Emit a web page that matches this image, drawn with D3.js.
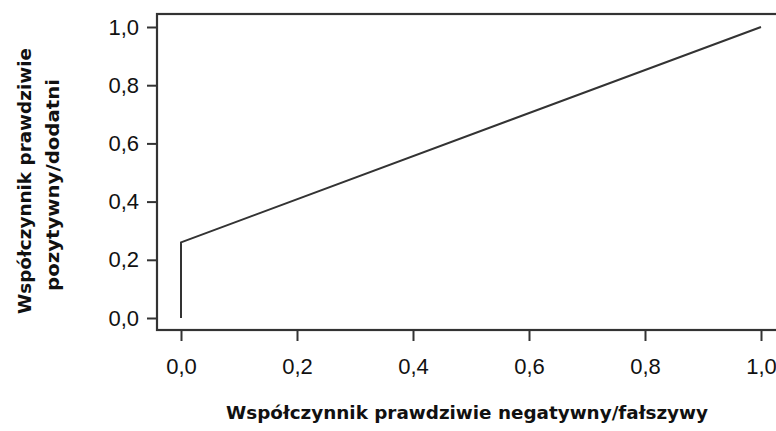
<!DOCTYPE html>
<meta charset="utf-8">
<style>
body { margin: 0; background: #fff; }
.tick text { font-family: "Liberation Sans", Arial, sans-serif; font-size: 22px; fill: #111; }
.tick line { stroke: #333; stroke-width: 2px; }
.title { font-family: "DejaVu Sans", sans-serif; font-weight: bold; font-size: 17.5px; fill: #111; }
</style>
<svg width="776" height="431"></svg>
<script src="https://d3js.org/d3.v7.min.js"></script>
<script>

// ROC curve points
var fpr = [0, 0, 1];
var tpr = [0, 0.26, 1];
var ticks = [0, 0.2, 0.4, 0.6, 0.8, 1.0];

var svg = d3.select("svg");

var pl = d3.formatLocale({decimal: ",", thousands: " ", grouping: [3], currency: ["", " zł"]});
var fmt = pl.format(".1f");

var x = d3.scaleLinear().domain([0, 1]).range([181, 761]);
var y = d3.scaleLinear().domain([0, 1]).range([318, 27]);

var frame = {left: 157, top: 14, right: 790, bottom: 330};

svg.append("rect")
    .attr("x", frame.left)
    .attr("y", frame.top)
    .attr("width", frame.right - frame.left)
    .attr("height", frame.bottom - frame.top)
    .attr("fill", "none")
    .attr("stroke", "#333")
    .attr("stroke-width", 2.2);

svg.append("g")
    .attr("transform", "translate(" + frame.left + ",0)")
    .call(d3.axisLeft(y).tickValues(ticks).tickFormat(fmt).tickSize(10).tickPadding(8))
    .call(function(g) { g.select(".domain").remove(); });

svg.append("g")
    .attr("transform", "translate(0," + frame.bottom + ")")
    .call(d3.axisBottom(x).tickValues(ticks).tickFormat(fmt).tickSize(11).tickPadding(17))
    .call(function(g) { g.select(".domain").remove(); });

var line = d3.line()
    .x(function(d) { return x(d[0]); })
    .y(function(d) { return y(d[1]); });

svg.append("path")
    .datum(d3.zip(fpr, tpr))
    .attr("d", line)
    .attr("fill", "none")
    .attr("stroke", "#333")
    .attr("stroke-width", 2);

svg.append("text")
    .attr("class", "title")
    .attr("x", 467)
    .attr("y", 419)
    .attr("text-anchor", "middle")
    .attr("textLength", 482)
    .attr("lengthAdjust", "spacingAndGlyphs")
    .text("Współczynnik prawdziwie negatywny/fałszywy");

svg.append("text")
    .attr("class", "title")
    .attr("text-anchor", "middle")
    .attr("transform", "translate(31,181) rotate(-90)")
    .attr("textLength", 266)
    .attr("lengthAdjust", "spacingAndGlyphs")
    .text("Współczynnik prawdziwie");

svg.append("text")
    .attr("class", "title")
    .attr("text-anchor", "middle")
    .attr("transform", "translate(59,185) rotate(-90)")
    .attr("textLength", 212)
    .attr("lengthAdjust", "spacingAndGlyphs")
    .text("pozytywny/dodatni");

</script>
